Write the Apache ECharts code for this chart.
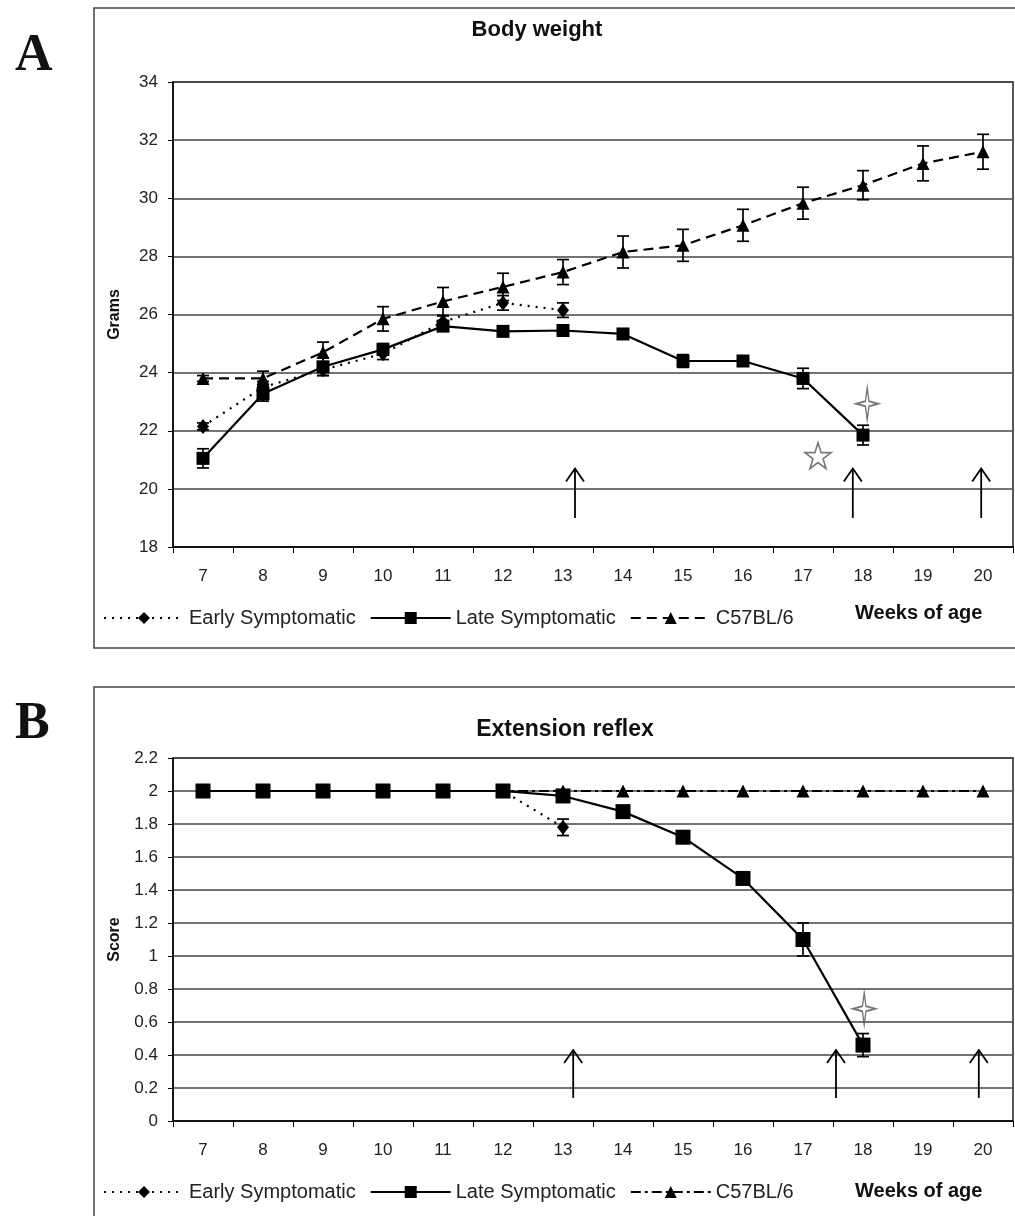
<!DOCTYPE html>
<html>
<head>
<meta charset="utf-8">
<script src="https://cdn.jsdelivr.net/npm/echarts@6/dist/echarts.min.js"></script>
<style>
  html, body { margin: 0; padding: 0; background: #fff; }
  #container { width: 1015px; height: 1216px; }
</style>
</head>
<body>
<div id="container"></div>
<script>
var dom = document.getElementById('container');
var myChart = echarts.init(dom, null, { renderer: 'canvas' });

// weeks of age (category axis)
var weeks = ['7', '8', '9', '10', '11', '12', '13', '14', '15', '16', '17', '18', '19', '20'];

// A - body weight (grams) and error bar half-widths
var bwEarly = [22.15, 23.5, 24.1, 24.65, 25.75, 26.4, 26.15, null, null, null, null, null, null, null];
var bwEarlyErr = [0.12, 0.2, 0.2, 0.2, 0.2, 0.25, 0.25, null, null, null, null, null, null, null];
var bwLate = [21.05, 23.27, 24.2, 24.8, 25.6, 25.42, 25.45, 25.33, 24.4, 24.4, 23.8, 21.85, null, null];
var bwLateErr = [0.33, 0.25, 0.3, 0.2, 0.12, 0.12, 0.12, 0.1, 0.22, 0.12, 0.35, 0.34, null, null];
var bwWild = [23.8, 23.8, 24.7, 25.85, 26.45, 26.95, 27.46, 28.15, 28.38, 29.07, 29.83, 30.45, 31.2, 31.6];
var bwWildErr = [0.1, 0.25, 0.35, 0.42, 0.48, 0.47, 0.43, 0.55, 0.55, 0.55, 0.55, 0.5, 0.6, 0.6];

// B - extension reflex score
var erEarly = [2, 2, 2, 2, 2, 2, 1.78, null, null, null, null, null, null, null];
var erEarlyErr = [0.01, 0.01, 0.01, 0.01, 0.01, 0.01, 0.05, null, null, null, null, null, null, null];
var erLate = [2, 2, 2, 2, 2, 2, 1.97, 1.875, 1.72, 1.47, 1.1, 0.46, null, null];
var erLateErr = [0.01, 0.01, 0.01, 0.01, 0.01, 0.01, 0.02, 0.02, 0.03, 0.03, 0.1, 0.07, null, null];
var erWild = [2, 2, 2, 2, 2, 2, 2, 2, 2, 2, 2, 2, 2, 2];

// annotations: arrows [week, from, to], stars [week, value]
var bwArrows = [[13.2, 19.0, 20.7], [17.83, 19.0, 20.7], [19.97, 19.0, 20.7]];
var bwStar5 = [[17.25, 21.14]];
var bwStar4 = [[18.07, 22.93]];
var erArrows = [[13.17, 0.14, 0.43], [17.55, 0.14, 0.43], [19.93, 0.14, 0.43]];
var erStar4 = [[18.02, 0.68]];

var FONT = "'Liberation Sans', Arial, sans-serif";
var STAR5 = 'path://M50,0 L61.8,35.4 L98.9,35.4 L69.1,57.3 L80.3,92.7 L50,70.8 L19.7,92.7 L30.9,57.3 L1.1,35.4 L38.2,35.4 Z';
var STAR4 = 'path://M50,0 L58,42 L100,50 L58,58 L50,100 L42,58 L0,50 L42,42 Z';

function errData(vals, errs) {
  var out = [];
  vals.forEach(function (v, i) {
    if (v != null) out.push([i, v - errs[i], v + errs[i]]);
  });
  return out;
}

function renderErr(params, api) {
  var x = api.value(0);
  var lo = api.coord([x, api.value(1)]);
  var hi = api.coord([x, api.value(2)]);
  var w = 6;
  var st = { stroke: '#000', lineWidth: 1.7 };
  return {
    type: 'group',
    children: [
      { type: 'line', shape: { x1: lo[0], y1: lo[1], x2: hi[0], y2: hi[1] }, style: st },
      { type: 'line', shape: { x1: lo[0] - w, y1: lo[1], x2: lo[0] + w, y2: lo[1] }, style: st },
      { type: 'line', shape: { x1: hi[0] - w, y1: hi[1], x2: hi[0] + w, y2: hi[1] }, style: st }
    ]
  };
}

function renderArrow(params, api) {
  var x = api.value(0);
  var p0 = api.coord([x, api.value(1)]);
  var p1 = api.coord([x, api.value(2)]);
  var st = { stroke: '#000', lineWidth: 1.8, fill: 'none' };
  return {
    type: 'group',
    children: [
      { type: 'line', shape: { x1: p0[0], y1: p0[1], x2: p1[0], y2: p1[1] }, style: st },
      { type: 'polyline', shape: { points: [[p1[0] - 9, p1[1] + 13], [p1[0], p1[1]], [p1[0] + 9, p1[1] + 13]] }, style: st }
    ]
  };
}

function makeGrid(top, height) {
  return { left: 173, top: top, width: 840, height: height, show: true, borderColor: '#222', borderWidth: 1.5, backgroundColor: 'transparent' };
}

function catAxis(gi) {
  return {
    type: 'category', gridIndex: gi, data: weeks, boundaryGap: true,
    axisLine: { lineStyle: { color: '#000', width: 1.5 } },
    axisTick: { show: true, interval: 0, length: 6, lineStyle: { color: '#000' } },
    axisLabel: { margin: 21, fontSize: 17, color: '#222', fontFamily: FONT },
    splitLine: { show: false }
  };
}

function valXAxis(gi) {
  return { type: 'value', gridIndex: gi, min: 6.5, max: 20.5, show: false, splitLine: { show: false } };
}

function yAxis(gi, min, max, interval, name) {
  return {
    type: 'value', gridIndex: gi, min: min, max: max, interval: interval,
    name: name, nameLocation: 'middle', nameGap: 50, nameRotate: 90,
    nameTextStyle: { fontSize: 16, fontWeight: 'bold', color: '#111', fontFamily: FONT },
    axisLine: { show: true, lineStyle: { color: '#000', width: 1.5 } },
    axisTick: { show: true, length: 5, lineStyle: { color: '#000' } },
    axisLabel: { margin: 15, fontSize: 17, color: '#222', fontFamily: FONT },
    splitLine: { show: true, lineStyle: { color: '#444', width: 1.6 } }
  };
}

function lineSeries(name, gi, data, symbol, size, lineType) {
  return {
    name: name, type: 'line', xAxisIndex: gi * 2, yAxisIndex: gi, data: data,
    symbol: symbol, symbolSize: size, showSymbol: true,
    lineStyle: { color: '#000', width: 2.2, type: lineType },
    itemStyle: { color: '#000' }, z: 3, animation: false
  };
}

function errSeries(gi, vals, errs) {
  return {
    type: 'custom', xAxisIndex: gi * 2, yAxisIndex: gi, data: errData(vals, errs),
    renderItem: renderErr, encode: { x: 0, y: [1, 2] }, z: 4, silent: true, animation: false
  };
}

function arrowSeries(gi, data) {
  return {
    type: 'custom', xAxisIndex: gi * 2 + 1, yAxisIndex: gi, data: data,
    renderItem: renderArrow, encode: { x: 0, y: [1, 2] }, z: 5, silent: true, animation: false
  };
}

function starSeries(gi, data, symbol, size) {
  return {
    type: 'scatter', xAxisIndex: gi * 2 + 1, yAxisIndex: gi, data: data,
    symbol: symbol, symbolSize: size,
    itemStyle: { color: '#fff', borderColor: '#555', borderWidth: 1.6 }, z: 5, silent: true, animation: false
  };
}

function legendFor(top, names) {
  return {
    top: top, left: 98, data: names, selectedMode: false,
    itemWidth: 80, itemHeight: 15, itemGap: 14,
    textStyle: { fontSize: 20, color: '#222', fontFamily: FONT },
    formatter: function (n) { return n.replace(' (B)', ''); }
  };
}

var option = {
  backgroundColor: '#fff',
  animation: false,
  title: [
    { text: 'Body weight', left: 532, top: 14, textAlign: 'center', textStyle: { fontSize: 22, fontWeight: 'bold', color: '#111', fontFamily: FONT } },
    { text: 'Extension reflex', left: 560, top: 713, textAlign: 'center', textStyle: { fontSize: 23, fontWeight: 'bold', color: '#111', fontFamily: FONT } },
    { text: 'Weeks of age', left: 850, top: 598, textStyle: { fontSize: 20, fontWeight: 'bold', color: '#111', fontFamily: FONT } },
    { text: 'Weeks of age', left: 850, top: 1176, textStyle: { fontSize: 20, fontWeight: 'bold', color: '#111', fontFamily: FONT } },
    { text: 'A', left: 10, top: 26, textStyle: { fontSize: 52, fontWeight: 'bold', color: '#111', fontFamily: "'Liberation Serif', 'Times New Roman', serif" } },
    { text: 'B', left: 10, top: 694, textStyle: { fontSize: 52, fontWeight: 'bold', color: '#111', fontFamily: "'Liberation Serif', 'Times New Roman', serif" } }
  ],
  legend: [
    legendFor(603, ['Early Symptomatic', 'Late Symptomatic', 'C57BL/6']),
    legendFor(1177, ['Early Symptomatic (B)', 'Late Symptomatic (B)', 'C57BL/6 (B)'])
  ],
  graphic: [
    { type: 'rect', shape: { x: 94, y: 8, width: 1000, height: 640 }, style: { fill: 'none', stroke: '#444', lineWidth: 1.5 }, z: -10 },
    { type: 'rect', shape: { x: 94, y: 687, width: 1000, height: 600 }, style: { fill: 'none', stroke: '#444', lineWidth: 1.5 }, z: -10 }
  ],
  grid: [makeGrid(82, 465), makeGrid(758, 363)],
  xAxis: [catAxis(0), valXAxis(0), catAxis(1), valXAxis(1)],
  yAxis: [yAxis(0, 18, 34, 2, 'Grams'), yAxis(1, 0, 2.2, 0.2, 'Score')],
  series: [
    lineSeries('Early Symptomatic', 0, bwEarly, 'diamond', [12, 15], [2, 6]),
    lineSeries('Late Symptomatic', 0, bwLate, 'rect', 13, 'solid'),
    lineSeries('C57BL/6', 0, bwWild, 'triangle', 13, [10, 6]),
    errSeries(0, bwEarly, bwEarlyErr),
    errSeries(0, bwLate, bwLateErr),
    errSeries(0, bwWild, bwWildErr),
    arrowSeries(0, bwArrows),
    starSeries(0, bwStar5, STAR5, 26),
    starSeries(0, bwStar4, STAR4, [22, 32]),

    lineSeries('C57BL/6 (B)', 1, erWild, 'triangle', 13, [10, 4, 3, 4]),
    lineSeries('Early Symptomatic (B)', 1, erEarly, 'diamond', [12, 15], [2, 6]),
    lineSeries('Late Symptomatic (B)', 1, erLate, 'rect', 15, 'solid'),
    errSeries(1, erEarly, erEarlyErr),
    errSeries(1, erLate, erLateErr),
    arrowSeries(1, erArrows),
    starSeries(1, erStar4, STAR4, [22, 32])
  ]
};

if (option && typeof option === 'object') {
  myChart.setOption(option);
}

window.addEventListener('resize', myChart.resize);
</script>
</body>
</html>
